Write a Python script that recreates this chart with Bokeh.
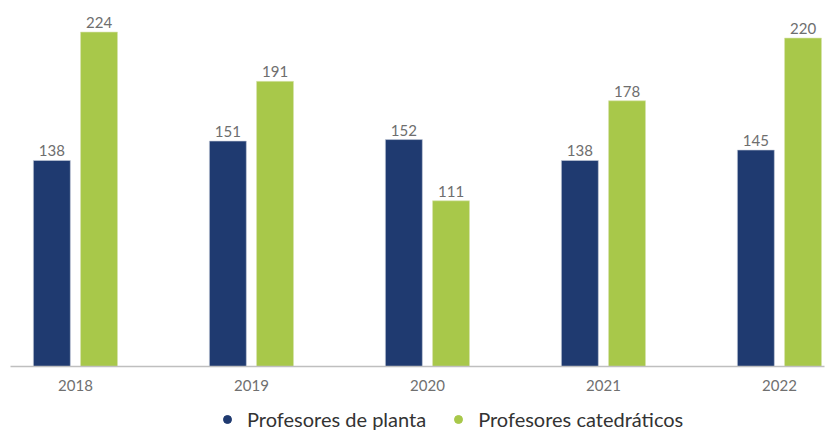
from bokeh.plotting import figure
from bokeh.layouts import column
from bokeh.models import ColumnDataSource, FixedTicker, Range1d, Legend, LegendItem
from bokeh.core.properties import value
from bokeh.embed import file_html
from bokeh.resources import INLINE

years = ["2018", "2019", "2020", "2021", "2022"]
planta = [138, 151, 152, 138, 145]
catedraticos = [224, 191, 111, 178, 220]
series_names = ["Profesores de planta", "Profesores catedráticos"]
colors = ["#1f3a70", "#a8c84a"]

xs = list(range(len(years)))
offset = 0.134
bw = 0.21

src_p = ColumnDataSource(dict(x=[i - offset for i in xs], y=planta, t=[str(v) for v in planta]))
src_c = ColumnDataSource(dict(x=[i + offset for i in xs], y=catedraticos, t=[str(v) for v in catedraticos]))

p = figure(width=834, height=398, output_backend="svg", toolbar_location=None,
           x_range=Range1d(-0.369, 4.256), y_range=Range1d(0, 239.8),
           min_border_left=10, min_border_right=10, min_border_top=8, min_border_bottom=32)
p.outline_line_color = None
p.grid.grid_line_color = None
p.yaxis.visible = False

p.vbar(x="x", top="y", width=bw, source=src_p,
       fill_color=colors[0], line_color="#c8cfdc", line_width=0.6)
p.vbar(x="x", top="y", width=bw, source=src_c,
       fill_color=colors[1], line_color="#d6e3ae", line_width=0.6)

for s in (src_p, src_c):
    p.text(x="x", y="y", text="t", source=s, text_align="center", text_baseline="bottom",
           y_offset=-4, text_font=value("Lato"), text_font_size="15px", text_color="#6e6e6e")

ax = p.xaxis[0]
ax.ticker = FixedTicker(ticks=xs)
ax.major_label_overrides = {i: y for i, y in zip(xs, years)}
ax.major_tick_line_color = None
ax.minor_tick_line_color = None
ax.major_tick_out = 0
ax.minor_tick_out = 0
ax.axis_line_color = "#bfbfbf"
ax.axis_line_width = 1.5
ax.major_label_text_font = "Lato"
ax.major_label_text_font_size = "15px"
ax.major_label_text_color = "#707070"
ax.major_label_standoff = 13

# legend strip below the chart
pl = figure(width=834, height=33, output_backend="svg", toolbar_location=None,
            x_range=Range1d(0, 1), y_range=Range1d(0, 1),
            x_axis_location=None, y_axis_location=None,
            min_border_left=0, min_border_right=0, min_border_top=0, min_border_bottom=0)
pl.outline_line_color = None
pl.grid.grid_line_color = None

dot1 = pl.scatter(x=[-5], y=[-5], size=13, color=colors[0])
dot2 = pl.scatter(x=[-5], y=[-5], size=13, color=colors[1])

legend = Legend(items=[LegendItem(label=series_names[0], renderers=[dot1]),
                       LegendItem(label=series_names[1], renderers=[dot2])],
                orientation="horizontal", location=(207, 0),
                border_line_color=None, background_fill_alpha=0, padding=0, margin=0,
                spacing=22, label_standoff=10, glyph_width=20, glyph_height=20,
                label_text_font="Lato", label_text_font_size="20px", label_text_color="#333333")
pl.add_layout(legend, "center")

layout = column(p, pl, spacing=0)
open("out.html", "w").write(file_html(layout, INLINE))
